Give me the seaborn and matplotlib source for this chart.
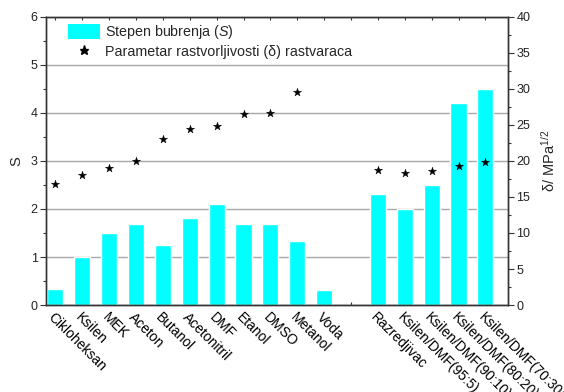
import numpy as np
import pandas as pd
import matplotlib
matplotlib.use("Agg")
import matplotlib.pyplot as plt
import seaborn as sns
from matplotlib.lines import Line2D
from matplotlib.patches import Patch
from matplotlib.ticker import MultipleLocator

sns.set_style("white")
plt.rcParams["font.family"] = ["Liberation Sans", "DejaVu Sans"]
plt.rcParams["mathtext.fontset"] = "custom"
plt.rcParams["mathtext.it"] = "Liberation Sans:italic"
plt.rcParams["mathtext.rm"] = "Liberation Sans"

# solvents, an empty slot, then the xylene/DMF mixtures
categories = ["Cikloheksan", "Ksilen", "MEK", "Aceton", "Butanol", "Acetonitril",
              "DMF", "Etanol", "DMSO", "Metanol", "Voda", "",
              "Razredjivac", "Ksilen/DMF(95:5)", "Ksilen/DMF(90:10)",
              "Ksilen/DMF(80:20)", "Ksilen/DMF(70:30)"]
swelling = [0.33, 1.0, 1.51, 1.69, 1.24, 1.81, 2.1, 1.69, 1.69, 1.33, 0.31, np.nan,
            2.31, 2.0, 2.5, 4.2, 4.51]
solubility = [16.8, 18.0, 19.0, 20.0, 23.1, 24.4, 24.8, 26.5, 26.7, 29.6, np.nan, np.nan,
              18.7, 18.3, 18.6, 19.3, 19.9]

df = pd.DataFrame({"pos": np.arange(len(categories)), "label": categories,
                   "S": swelling, "delta": solubility})

fig = plt.figure(figsize=(5.64, 3.92), dpi=100)
ax = fig.add_axes([46 / 564, 1 - 305 / 392, (508 - 46) / 564, (305 - 17) / 392])

cyan = "#00ffff"
sns.barplot(data=df, x="pos", y="S", color=cyan, saturation=1, width=0.6,
            native_scale=True, ax=ax, zorder=2)
ax.set_xlim(-0.35, 16.84)
ax.set_ylim(0, 6)
ax.yaxis.set_major_locator(MultipleLocator(1))
ax.yaxis.set_minor_locator(MultipleLocator(0.5))
ax.grid(axis="y", which="major", color="#a8a8a8", linewidth=1.0, zorder=0)
ax.set_axisbelow(True)
ax.set_xticks(df["pos"])
ax.set_xticklabels(categories, rotation=-45, ha="left", va="top",
                   rotation_mode="anchor", fontsize=10)
ax.tick_params(axis="x", which="major", direction="in", length=2, width=0.8,
               top=True, bottom=True, pad=4, colors="#333333", labelcolor="black")
ax.tick_params(axis="y", which="major", direction="out", length=4, width=0.8,
               labelsize=9, pad=2, colors="#333333", labelcolor="#222222")
ax.tick_params(axis="y", which="minor", direction="out", length=2.5, width=0.8,
               left=True, colors="#333333")
ax.set_xlabel("")
ax.set_ylabel("S", fontsize=10.5, labelpad=5)

ax2 = ax.twinx()
sns.scatterplot(data=df, x="pos", y="delta", marker="*", s=38, color="black",
                edgecolor="black", linewidth=0.3, ax=ax2, zorder=3, legend=False)
ax2.set_ylim(0, 40)
ax2.set_xlim(-0.35, 16.84)
ax2.yaxis.set_major_locator(MultipleLocator(5))
ax2.yaxis.set_minor_locator(MultipleLocator(2.5))
ax2.tick_params(axis="y", which="major", direction="out", length=4, width=0.8,
                labelsize=9, pad=2, colors="#333333", labelcolor="#222222")
ax2.tick_params(axis="y", which="minor", direction="out", length=2.5, width=0.8,
                right=True, colors="#333333")
ax2.set_ylabel("δ/ MPa$^{1/2}$", fontsize=10.5, labelpad=7)

for a in (ax, ax2):
    for sp in a.spines.values():
        sp.set_color("#333333")
        sp.set_linewidth(1.0)

handles = [Patch(facecolor=cyan, edgecolor="none"),
           Line2D([], [], marker="*", linestyle="none", color="black", markersize=6.5)]
labels = [r"Stepen bubrenja ($\mathit{S}$)",
          "Parametar rastvorljivosti (δ) rastvaraca"]
ax.legend(handles, labels, loc="upper left", bbox_to_anchor=(0.03, 1.008),
          frameon=False, fontsize=10.3, handlelength=2.2, handleheight=1.2,
          handletextpad=0.35, labelspacing=0.2, borderaxespad=0.2)

fig.savefig("out.png", dpi=100)
